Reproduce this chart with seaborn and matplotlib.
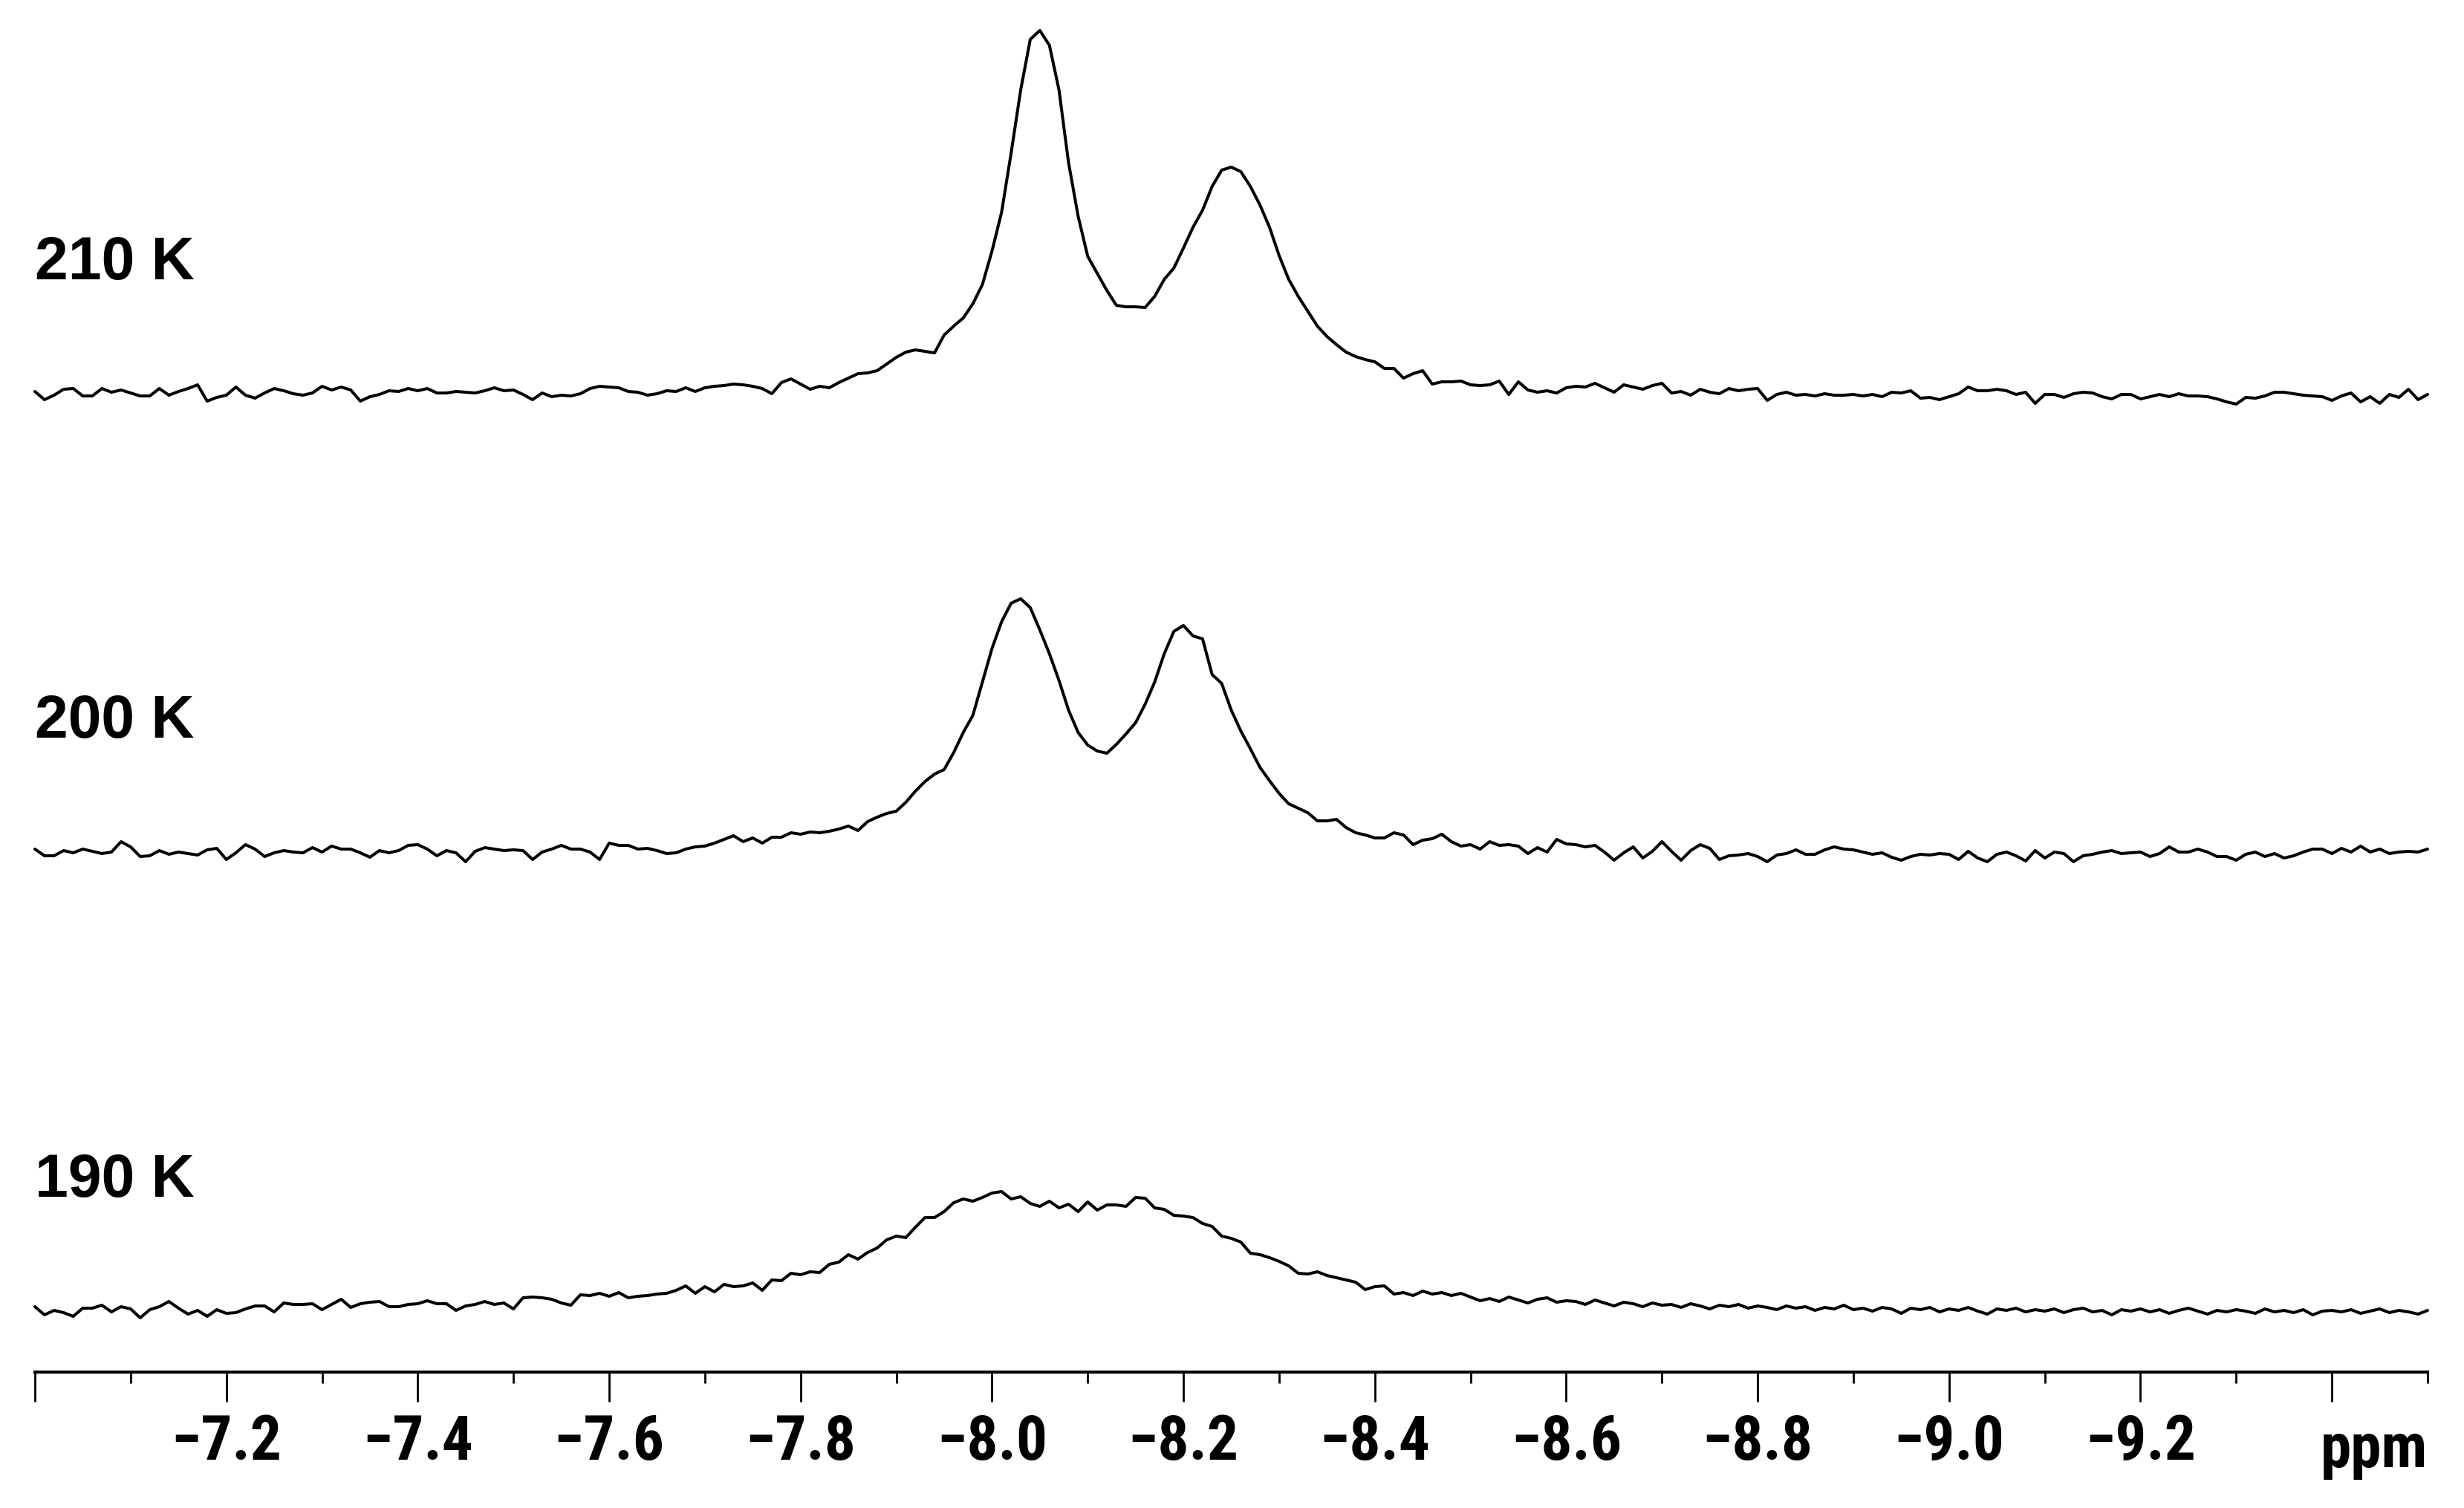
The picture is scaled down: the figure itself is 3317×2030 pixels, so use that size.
import numpy as np
import pandas as pd
import matplotlib
matplotlib.use("Agg")
import matplotlib.pyplot as plt
from matplotlib import font_manager as fm
import seaborn as sns

# ---------------- data ----------------
# chemical-shift grid: -7.00 ... -9.50 ppm in 0.01 ppm steps (251 points)
ppm = np.round(np.arange(251) * -0.01 - 7.00, 2)

# intensities above each trace's own baseline (arbitrary units)
int_210K = [
    4, -7, -1, 7, 8, -2, -2, 8, 3, 6, 2, -2, -2, 8, -1, 4, 8, 13, -9, -4,
    -1, 10, -1, -5, 2, 8, 5, 1, -1, 2, 11, 6, 10, 6, -9, -3, 0, 5, 4, 8,
    5, 8, 2, 2, 4, 3, 2, 5, 9, 5, 6, 0, -7, 2, -3, -1, -2, 1, 8, 11,
    10, 9, 4, 3, -1, 1, 5, 4, 9, 4, 9, 11, 12, 14, 13, 11, 8, 1, 16, 21,
    14, 7, 11, 9, 16, 22, 28, 29, 32, 41,
    50, 57, 60, 58, 56, 80, 92, 103, 122, 148, 193, 245, 325, 410, 478, 490, 470, 410, 312, 240,
    186, 163, 140, 120, 118, 118, 117, 132, 155, 170, 197, 225, 248, 280, 302, 306, 300, 280, 255, 225,
    187, 155, 132, 112, 92, 78, 67, 57, 51, 47, 44,
    35, 35, 22, 28, 32, 14, 17, 17, 18, 13, 12, 13, 18, 0, 17, 6, 3, 5, 2, 9,
    11, 10, 15, 9, 3, 13, 10, 7, 12, 15, 2, 4, -1, 7, 3, 1, 8, 5, 7, 8,
    -8, 0, 3, -1, 0, -2, 1, -1, -1, 0, -2, 0, -3, 3, 2, 5, -5, -4, -7, -3,
    1, 10, 5, 5, 7, 5, 0, 3, -12, 0, 0, -4, 1, 3, 2, -3, -6, 0, 0, -6,
    -3, 0, -3, 1, -2, -2, -3, -6, -10, -13, -4, -5, -2, 3, 3, 1, -1, -2, -3, -8,
    -2, 2, -10, -3, -12, 0, -4, 7, -7, 0,
]
int_200K = [
    5, -4, -4, 3, 0, 5, 2, -1, 1, 15, 8, -5, -4, 3, -2, 1, -1, -3, 4, 6,
    -9, 0, 11, 5, -5, 0, 3, 1, 0, 7, 1, 9, 5, 5, 0, -6, 3, 0, 3, 10,
    11, 5, -4, 3, 0, -12, 2, 7, 5, 3, 4, 3, -9, 1, 5, 10, 5, 5, 1, -9,
    13, 10, 10, 5, 6, 3, -1, 0, 5, 8, 9, 13, 18, 23, 15, 20, 13, 21, 21, 27,
    25, 28, 27, 29, 32, 36,
    30, 42, 48, 53, 56, 68, 83, 96, 106, 112, 135, 162, 185, 230, 275, 311, 336, 342, 330, 300,
    268, 232, 192, 162, 145, 137, 134, 146, 160, 175, 200, 230, 268, 298, 306, 292, 288, 240, 228, 192,
    164, 140, 115, 97, 80, 66, 60, 54, 43, 43, 45, 34, 27, 24, 20,
    20, 27, 24, 11, 17, 19, 25, 15, 9, 11, 5, 15, 10, 11, 9, -1, 7, 1, 18, 12,
    11, 8, 10, 1, -10, 0, 8, -7, 2, 15, 2, -10, 3, 11, 6, -9, -4, -3, -1, -5,
    -12, -3, -1, 4, -2, -2, 4, 8, 5, 4, 1, -2, 0, -6, -10, -5, -2, -3, -1, -2,
    -9, 2, -7, -12, -2, 1, -4, -11, 3, -7, 1, -1, -12, -4, -2, 1, 3, -1, 0, 1,
    -5, -1, 8, 1, 1, 5, 1, -5, -5, -10, -2, 1, -5, -1, -7, -4, 1, 5, 5, -1,
    6, 1, 9, 1, 5, -1, 1, 2, 1, 5,
]
int_190K = [
    7, -4, 2, -1, -6, 5, 5, 9, 0, 7, 4, -8, 3, 7, 14, 5, -3, 2, -6, 3,
    -2, -1, 4, 8, 8, 0, 12, 10, 10, 11, 3, 10, 17, 6, 11, 13, 14, 7, 7, 10,
    11, 15, 11, 11, 2, 8, 10, 14, 10, 12, 4, 19, 20, 19, 17, 12, 9, 23, 22, 25,
    21, 26, 19, 21, 22, 24, 25, 29, 35, 25,
    34, 27, 37, 34, 35, 39, 29, 43, 42, 52, 50, 54, 53, 64, 67, 77, 71, 80, 86, 97,
    102, 100, 114, 127, 127, 135, 147, 152, 149, 154, 160, 162, 152, 155, 146, 142, 149, 140, 145, 135,
    148, 137, 144, 144, 142, 154, 153, 140, 138, 130, 129, 127, 119, 115, 102, 99, 94, 79, 77, 73,
    68, 62, 52, 51, 54, 49, 46, 43, 40, 30, 34, 35, 24, 26, 22, 28, 24, 26, 22, 25,
    20, 15,
    18, 14, 20, 16, 12, 17, 19, 13, 15,
    14, 10, 16, 12, 8, 13, 11, 7, 12, 9, 10, 6, 11, 8, 4, 9, 7, 10, 5, 8,
    6, 3, 8, 5, 7, 2, 6, 4, 9, 3, 5, 1, 6, 4, -2, 5, 3, 6, 0, 4,
    2, 6, 1, -3, 4, 2, 5, 0, 3, 1, 4, -1, 3, 5, 0, 2, -4, 3, 1, 4,
    0, 3, -2, 2, 5, 1, -3, 2, 0, 3, 1, -2, 4, 0, 2, -1, 3, -4, 1, 2,
    0, 3, -2, 1, 4, -1, 2, 0, -3, 2,
]
temperatures = ["210 K", "200 K", "190 K"]

major_ticks = [-7.0, -7.2, -7.4, -7.6, -7.8, -8.0, -8.2, -8.4, -8.6, -8.8, -9.0, -9.2, -9.4]
major_labels = ["", "\u22127.2", "\u22127.4", "\u22127.6", "\u22127.8", "\u22128.0", "\u22128.2",
                "\u22128.4", "\u22128.6", "\u22128.8", "\u22129.0", "\u22129.2", ""]
minor_ticks = [-7.1, -7.3, -7.5, -7.7, -7.9, -8.1, -8.3, -8.5, -8.7, -8.9, -9.1, -9.3, -9.5]
x_unit = "ppm"

assert len(int_210K) == len(int_200K) == len(int_190K) == len(ppm)

# ---------------- layout / style ----------------
W, H, DPI = 3317, 2030, 100
AX_LEFT, AX_RIGHT, AX_BOTTOM = 47, 3268, 1847          # pixel positions
OFFSETS = [1316, 699, 81]                               # vertical stacking of traces
LABEL_RISE = 155

sns.set_theme(style="white")
plt.rcParams["font.family"] = ["Liberation Sans", "DejaVu Sans"]
for k in ("text.color", "axes.labelcolor", "xtick.color", "ytick.color", "axes.edgecolor"):
    plt.rcParams[k] = "black"


def _is_bold(f):
    w = f.weight
    if isinstance(w, str):
        return w in ("bold", "heavy", "black", "demibold", "semibold", "extra bold")
    return w >= 600


def pick_narrow_bold():
    prefs = ["Liberation Sans Narrow", "Arial Narrow", "DejaVu Sans Condensed",
             "Roboto Condensed", "Noto Sans Condensed", "Open Sans Condensed"]
    flist = fm.fontManager.ttflist
    for p in prefs:
        for f in flist:
            if f.name == p and _is_bold(f) and f.style == "normal":
                return f.fname
    for f in flist:
        if (str(f.stretch) in ("condensed", "semi-condensed")) and _is_bold(f) \
                and f.style == "normal" and "Sans" in f.name and "Mono" not in f.name \
                and "CJK" not in f.name:
            return f.fname
    return None


narrow_file = pick_narrow_bold()
if narrow_file:
    tick_fp = fm.FontProperties(fname=narrow_file, size=60)
else:
    tick_fp = fm.FontProperties(family=["Liberation Sans", "DejaVu Sans"], weight="bold", size=64)

fig = plt.figure(figsize=(W / DPI, H / DPI), dpi=DPI)
fig.patch.set_facecolor("white")
ax = fig.add_axes([AX_LEFT / W, (H - AX_BOTTOM) / H, (AX_RIGHT - AX_LEFT) / W, AX_BOTTOM / H])
ax.set_facecolor("white")

df = pd.DataFrame({"ppm": ppm, "210 K": int_210K, "200 K": int_200K, "190 K": int_190K})
for temp, off in zip(temperatures, OFFSETS):
    sns.lineplot(x=df["ppm"], y=df[temp] + off, ax=ax, color="black",
                 linewidth=2.9, estimator=None, sort=False, clip_on=False)
    ax.text(-7.0, off + LABEL_RISE, temp, ha="left", va="baseline", color="black",
            fontsize=58, fontweight="bold", family=["Liberation Sans", "DejaVu Sans"])

ax.set_xlim(-7.0, -9.5)
ax.set_ylim(0, AX_BOTTOM)
ax.set_xlabel("")
ax.set_ylabel("")
ax.set_yticks([])
for s in ("top", "left", "right"):
    ax.spines[s].set_visible(False)
ax.spines["bottom"].set_linewidth(3.0)
ax.spines["bottom"].set_color("black")

ax.set_xticks(major_ticks)
ax.set_xticks(minor_ticks, minor=True)
ax.set_xticklabels(major_labels)
for lbl in ax.get_xticklabels():
    lbl.set_fontproperties(tick_fp)
    lbl.set_color("black")
ax.tick_params(axis="x", which="major", direction="out", length=29, width=2.0,
               color="black", pad=11, bottom=True)
ax.tick_params(axis="x", which="minor", direction="out", length=11, width=2.0,
               color="black", bottom=True)

fig.text(AX_RIGHT / W, (H - 1975) / H, x_unit, ha="right", va="baseline",
         color="black", fontproperties=tick_fp)

fig.savefig("out.png", dpi=DPI, facecolor="white")
